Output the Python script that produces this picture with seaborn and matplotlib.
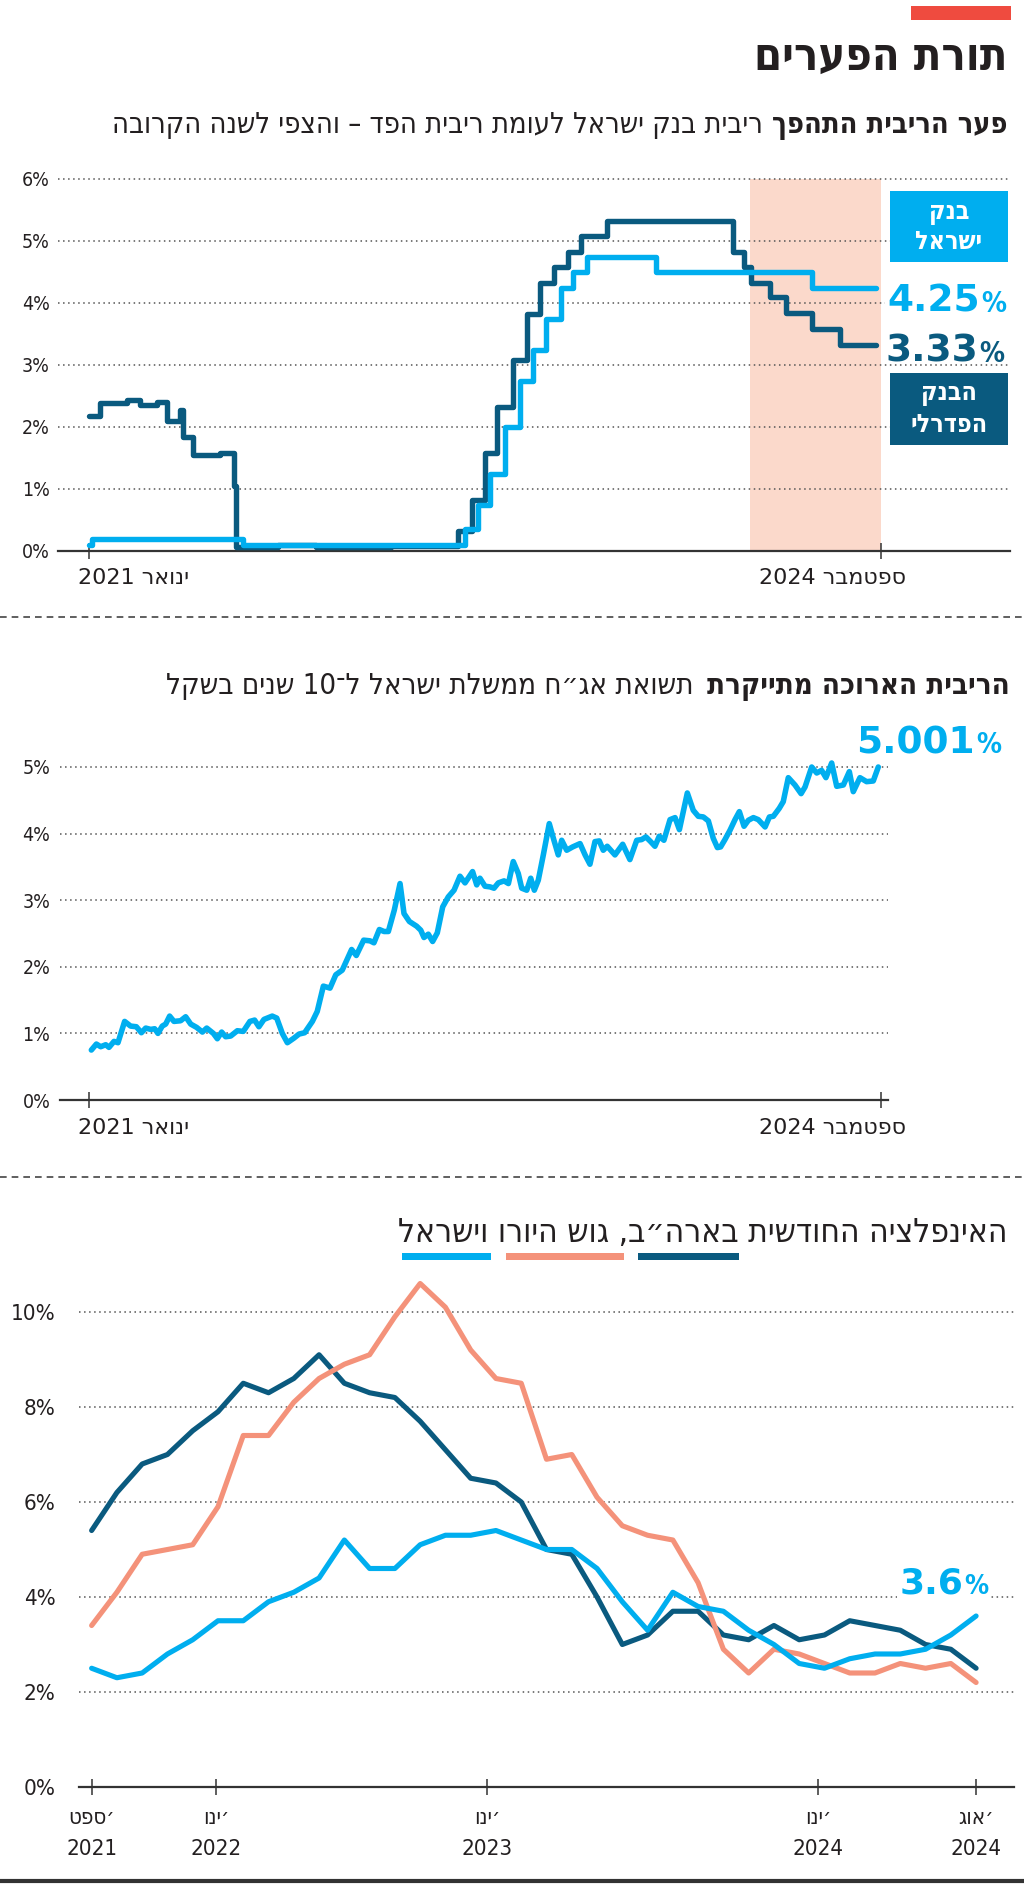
import re
import numpy as np
import pandas as pd
import matplotlib
matplotlib.use("Agg")
import matplotlib.pyplot as plt
import seaborn as sns
from matplotlib.patches import Rectangle
from matplotlib.lines import Line2D

# ---------------- DATA ----------------
TITLE = "תורת הפערים"
SUB1_BOLD = "פער הריבית התהפך"
SUB1_REG = "ריבית בנק ישראל לעומת ריבית הפד – והצפי לשנה הקרובה"
BOX_BOI = ["בנק", "ישראל"]
BOX_FED = ["הבנק", "הפדרלי"]
P1_XLABELS = ["ינואר 2021", "ספטמבר 2024"]

boi_month = [0, 0.3, 16.3, 39.8, 41.2, 42.4, 44.0, 45.6, 47.0, 48.4, 49.9, 51.2, 52.7, 60.0, 76.5, 83.3]
boi_rate = [0.1, 0.2, 0.1, 0.35, 0.75, 1.25, 2.0, 2.75, 3.25, 3.75, 4.25, 4.5, 4.75, 4.5, 4.25, 4.25]
fed_month = [0, 1.2, 4.0, 5.4, 7.2, 8.25, 9.6, 9.9, 11.0, 13.9,
             15.3, 15.6, 20, 24, 32, 39.1, 40.5, 41.9, 43.2, 44.9,
             46.4, 47.7, 49.2, 50.7, 52.1, 54.8, 68.2, 69.3, 70.1, 72.1,
             73.8, 76.5, 79.5, 83.3]
fed_rate = [2.18, 2.39, 2.43, 2.35, 2.40, 2.10, 2.28, 1.84, 1.55, 1.58,
            1.05, 0.07, 0.09, 0.06, 0.08, 0.33, 0.83, 1.58, 2.33, 3.08,
            3.83, 4.33, 4.58, 4.83, 5.08, 5.33, 4.83, 4.58, 4.33, 4.09,
            3.84, 3.58, 3.33, 3.33]
forecast_span = [69.95, 83.8]
p1_ticks = [0, 83.8]
boi_label = "4.25"
fed_label = "3.33"

SUB2_BOLD = "הריבית הארוכה מתייקרת"
SUB2_REG = "תשואת אג״ח ממשלת ישראל ל־10 שנים בשקל"
P2_XLABELS = ["ינואר 2021", "ספטמבר 2024"]
p2_ticks = [0, 44]
y10_month = [0.13,0.41,0.65,0.93,1.11,1.39,1.61,1.98,2.31,2.63,
             2.91,3.15,3.43,3.65,3.83,4.07,4.26,4.48,4.72,5.09,
             5.37,5.65,5.98,6.3,6.54,6.91,7.13,7.37,7.59,7.87,
             8.24,8.57,8.94,9.2,9.44,9.72,10.18,10.43,10.74,11.02,
             11.39,11.67,11.98,12.41,12.68,13.02,13.39,13.71,14.07,14.59,
             14.85,15.26,15.61,15.83,16.13,16.39,16.63,16.96,17.28,17.5,
             17.8,18.2,18.43,18.61,18.85,19.09,19.35,19.65,19.96,20.28,
             20.61,20.89,21.31,21.54,21.72,22.0,22.28,22.5,22.74,23.06,
             23.3,23.57,23.85,24.04,24.32,24.54,24.74,24.96,25.24,25.57,
             25.83,26.07,26.26,26.54,26.87,27.28,27.56,27.83,28.11,28.35,
             28.57,28.79,29.22,29.65,30.05,30.43,30.7,30.94,31.2,31.44,
             31.68,31.94,32.28,32.56,32.8,33.24,33.57,33.85,34.13,34.41,
             34.68,34.91,35.09,35.33,35.61,35.89,36.13,36.39,36.63,36.91,
             37.18,37.56,37.8,38.02,38.35,38.57,38.85,39.22,39.56,39.78,
             40.15,40.43,40.7,40.94,41.26,41.54,41.91,42.24,42.46,42.83,
             43.2,43.57,43.85]
y10_yield = [0.75,0.84,0.80,0.83,0.79,0.88,0.86,1.18,1.11,1.10,
             1.01,1.08,1.06,1.07,1.00,1.11,1.14,1.26,1.18,1.19,
             1.25,1.14,1.09,1.02,1.08,1.00,0.92,1.02,0.95,0.96,
             1.04,1.03,1.18,1.20,1.10,1.21,1.26,1.23,1.00,0.86,
             0.93,0.99,1.01,1.18,1.33,1.71,1.68,1.88,1.95,2.26,
             2.17,2.40,2.39,2.36,2.56,2.53,2.53,2.85,3.25,2.80,
             2.68,2.61,2.55,2.44,2.49,2.38,2.51,2.90,3.05,3.15,
             3.36,3.26,3.43,3.23,3.33,3.21,3.20,3.18,3.26,3.29,
             3.25,3.58,3.40,3.18,3.15,3.33,3.15,3.30,3.68,4.15,
             3.90,3.68,3.90,3.75,3.80,3.85,3.68,3.54,3.88,3.89,
             3.75,3.81,3.68,3.84,3.61,3.90,3.91,3.95,3.88,3.81,
             3.96,3.90,4.21,4.24,4.06,4.61,4.35,4.26,4.25,4.19,
             3.93,3.79,3.80,3.91,4.05,4.21,4.33,4.11,4.20,4.24,
             4.21,4.10,4.25,4.26,4.38,4.48,4.84,4.73,4.60,4.70,
             5.00,4.91,4.95,4.84,5.06,4.71,4.73,4.93,4.63,4.84,
             4.78,4.79,5.00]
y10_label = "5.001"

SUB3 = "האינפלציה החודשית בארה״ב, גוש היורו וישראל"
inf_us = [5.4, 6.2, 6.8, 7.0, 7.5, 7.9, 8.5, 8.3, 8.6, 9.1, 8.5, 8.3, 8.2, 7.7, 7.1, 6.5, 6.4, 6.0,
          5.0, 4.9, 4.0, 3.0, 3.2, 3.7, 3.7, 3.2, 3.1, 3.4, 3.1, 3.2, 3.5, 3.4, 3.3, 3.0, 2.9, 2.5]
inf_euro = [3.4, 4.1, 4.9, 5.0, 5.1, 5.9, 7.4, 7.4, 8.1, 8.6, 8.9, 9.1, 9.9, 10.6, 10.1, 9.2, 8.6, 8.5,
            6.9, 7.0, 6.1, 5.5, 5.3, 5.2, 4.3, 2.9, 2.4, 2.9, 2.8, 2.6, 2.4, 2.4, 2.6, 2.5, 2.6, 2.2]
inf_israel = [2.5, 2.3, 2.4, 2.8, 3.1, 3.5, 3.5, 3.9, 4.1, 4.4, 5.2, 4.6, 4.6, 5.1, 5.3, 5.3, 5.4, 5.2,
              5.0, 5.0, 4.6, 3.9, 3.3, 4.1, 3.8, 3.7, 3.3, 3.0, 2.6, 2.5, 2.7, 2.8, 2.8, 2.9, 3.2, 3.6]
p3_ticks = [0, 4.93, 15.66, 28.74, 35]
p3_months = ["ספט׳", "ינו׳", "ינו׳", "ינו׳", "אוג׳"]
p3_years = ["2021", "2022", "2023", "2024", "2024"]
inf_label = "3.6"

# ---------------- STYLE ----------------
LIGHT = "#00aeef"
DARK = "#0a5a7f"
SALMON = "#f4927a"
SHADE = "#fbd9cb"
RED = "#ef4b3f"
TEXT = "#231f20"
GRID = "#555555"

sns.set_theme(style="white")
plt.rcParams["font.family"] = ["DejaVu Sans"]
plt.rcParams["font.stretch"] = "condensed"

W, H = 1024, 1886
fig = plt.figure(figsize=(W / 100, H / 100), dpi=100)
fig.patch.set_facecolor("white")
renderer = fig.canvas.get_renderer()


def rtl(s):
    r = s[::-1]
    return re.sub(r"[0-9A-Za-z][0-9A-Za-z.,%]*", lambda m: m.group(0)[::-1], r)


def rtl_mark(s):
    # Hebrew abbreviation whose geresh is shown at the right end
    return rtl(s[:-1]) + s[-1]


def FX(x):
    return x / W


def FY(y):
    return 1 - y / H


def rect(x0, y0, x1, y1):
    return [x0 / W, 1 - y1 / H, (x1 - x0) / W, (y1 - y0) / H]


def txt(x, y, s, ha="right", va="baseline", size=14, weight="normal", color=TEXT, **kw):
    return fig.text(FX(x), FY(y), s, ha=ha, va=va, fontsize=size,
                    fontweight=weight, color=color, **kw)


def wpx(t):
    return t.get_window_extent(renderer=renderer).width


def box(x0, y0, x1, y1, color):
    fig.add_artist(Rectangle((FX(x0), FY(y1)), (x1 - x0) / W, (y1 - y0) / H,
                             transform=fig.transFigure, color=color, lw=0, zorder=5))


def two_part(right, base, bold_s, reg_s, total, gap, size):
    b = txt(right, base, rtl(bold_s), size=size, weight="bold")
    r = txt(right, base, rtl(reg_s), size=size)
    k = (total - gap) / (wpx(b) + wpx(r))
    b.set_fontsize(size * k)
    r.set_fontsize(size * k)
    r.set_x(FX(right - wpx(b) - gap))


def big_number(xr, base, num, color, size=27, bbox=False):
    kw = {}
    if bbox:
        kw = dict(bbox=dict(facecolor="white", edgecolor="none", pad=1.5))
    txt(xr, base, num, ha="right", size=size, weight="bold", color=color,
        zorder=6, fontstretch="normal", **kw)
    txt(xr + 1, base, "%", ha="left", size=size * 0.74, weight="bold", color=color,
        zorder=6, **kw)


def style_axis(ax, ticks, yt, ylabels, ysize, ypad):
    for s in ["top", "right", "left"]:
        ax.spines[s].set_visible(False)
    ax.spines["bottom"].set_color("#333333")
    ax.spines["bottom"].set_linewidth(1.6)
    ax.set_xticks(ticks)
    ax.set_xticklabels([""] * len(ticks))
    ax.tick_params(axis="x", direction="inout", length=12, width=1.1, color="#333333", bottom=True)
    ax.set_yticks(yt)
    ax.set_yticklabels(ylabels)
    ax.tick_params(axis="y", length=0, pad=ypad, labelsize=ysize, labelcolor=TEXT)
    ax.set_xlabel("")
    ax.set_ylabel("")
    ax.set_facecolor("none")
    for v in yt[1:]:
        ax.axhline(v, color=GRID, lw=1.1, ls=(0, (1, 2.3)), zorder=1)


# ---------------- HEADER ----------------
box(911, 6, 1011, 20, RED)
t = txt(1008, 70, rtl(TITLE), size=32, weight="bold")
t.set_fontsize(32 * 254 / wpx(t))
two_part(1008, 133, SUB1_BOLD, SUB1_REG, 894, 10, 18)

# ---------------- PANEL 1 ----------------
ax1 = fig.add_axes(rect(58, 551 - 6.05 * 62, 1010, 551))
ax1.set_xlim((58 - 89) / 9.45, (1010 - 89) / 9.45)
ax1.set_ylim(0, 6.05)
ax1.axvspan(forecast_span[0], forecast_span[1], ymin=0, ymax=6 / 6.05, color=SHADE, lw=0, zorder=0)
df_fed = pd.DataFrame({"month": fed_month, "rate": fed_rate})
df_boi = pd.DataFrame({"month": boi_month, "rate": boi_rate})
sns.lineplot(data=df_fed, x="month", y="rate", ax=ax1, color=DARK, lw=3.9,
             drawstyle="steps-post", estimator=None, legend=False, zorder=3)
sns.lineplot(data=df_boi, x="month", y="rate", ax=ax1, color=LIGHT, lw=3.9,
             drawstyle="steps-post", estimator=None, legend=False, zorder=4)
style_axis(ax1, p1_ticks, list(range(7)), [f"{v}%" for v in range(7)], 14, 5.8)
txt(78, 584, rtl(P1_XLABELS[0]), ha="left", size=16, fontstretch="normal")
txt(906, 584, rtl(P1_XLABELS[1]), ha="right", size=16, fontstretch="normal")

box(890, 191, 1008, 262, LIGHT)
txt(949, 213, rtl(BOX_BOI[0]), ha="center", va="center", size=18, weight="bold", color="white", zorder=7)
txt(949, 242, rtl(BOX_BOI[1]), ha="center", va="center", size=18, weight="bold", color="white", zorder=7)
box(890, 373, 1008, 445, DARK)
txt(949, 394, rtl(BOX_FED[0]), ha="center", va="center", size=18, weight="bold", color="white", zorder=7)
txt(949, 425, rtl(BOX_FED[1]), ha="center", va="center", size=18, weight="bold", color="white", zorder=7)
big_number(980, 312, boi_label, LIGHT, bbox=True)
big_number(978, 362, fed_label, DARK)

# separators
for yy in [617, 1177]:
    fig.add_artist(Line2D([0, 1], [FY(yy)] * 2, transform=fig.transFigure,
                          color="#444444", lw=1.2, ls=(0, (4, 3))))
fig.add_artist(Line2D([0, 1], [FY(1881)] * 2, transform=fig.transFigure, color="#333333", lw=3))

# ---------------- PANEL 2 ----------------
two_part(1010, 694, SUB2_BOLD, SUB2_REG, 842, 14, 18)
ax2 = fig.add_axes(rect(60, 1100 - 5.35 * 66.6, 888, 1100))
ax2.set_xlim((60 - 89) / 18, (888 - 89) / 18)
ax2.set_ylim(0, 5.35)
df_y10 = pd.DataFrame({"month": y10_month, "yield": y10_yield})
sns.lineplot(data=df_y10, x="month", y="yield", ax=ax2, color=LIGHT, lw=4,
             estimator=None, legend=False, zorder=3)
style_axis(ax2, p2_ticks, list(range(6)), [f"{v}%" for v in range(6)], 14, 7)
txt(78, 1134, rtl(P2_XLABELS[0]), ha="left", size=16, fontstretch="normal")
txt(906, 1134, rtl(P2_XLABELS[1]), ha="right", size=16, fontstretch="normal")
big_number(975, 753, y10_label, LIGHT)

# ---------------- PANEL 3 ----------------
t3 = txt(1008, 1242, rtl(SUB3), size=24)
t3.set_fontsize(24 * 608 / wpx(t3))
box(402, 1253, 491, 1260, LIGHT)
box(506, 1253, 624, 1260, SALMON)
box(638, 1253, 739, 1260, DARK)

ax3 = fig.add_axes(rect(79, 1787 - 10.9 * 47.5, 1014, 1787))
ax3.set_xlim(-0.5, 36.5)
ax3.set_ylim(0, 10.9)
idx = list(range(len(inf_us)))
df3 = pd.DataFrame({"i": idx * 3,
                    "v": inf_us + inf_euro + inf_israel,
                    "s": ["us"] * 36 + ["euro"] * 36 + ["il"] * 36})
sns.lineplot(data=df3, x="i", y="v", hue="s", hue_order=["us", "euro", "il"],
             palette={"us": DARK, "euro": SALMON, "il": LIGHT}, ax=ax3, lw=3.7,
             estimator=None, legend=False, zorder=3)
style_axis(ax3, p3_ticks, list(range(0, 11, 2)), [f"{v}%" for v in range(0, 11, 2)], 16, 17)
for tk, mo, yr in zip(p3_ticks, p3_months, p3_years):
    xpx = 79 + (tk + 0.5) * 935 / 37
    txt(xpx, 1824, rtl_mark(mo), ha="center", size=16)
    txt(xpx, 1855, yr, ha="center", size=16)
big_number(963, 1594, inf_label, LIGHT, size=26, bbox=True)

fig.savefig("out.png", dpi=100, facecolor="white")
